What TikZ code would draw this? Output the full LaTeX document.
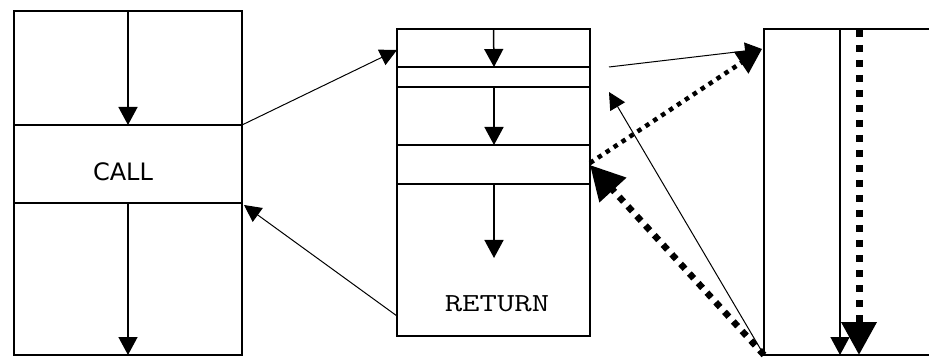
\documentclass[tikz,border=0pt]{standalone}
\usepackage{fontspec}
\newfontfamily\callfont{DejaVu Sans}
\usetikzlibrary{arrows.meta}
\begin{document}
\begin{tikzpicture}[x=1pt,y=-1pt,
  box/.style={draw,line width=1.5pt,inner sep=0pt,outer sep=0pt},
  divider/.style={line width=1.5pt},
  flow/.style={line width=1.5pt,-{Triangle[width=19pt,length=18pt]}},
  link/.style={line width=1pt,-{Triangle[width=17pt,length=17pt]}},
  dotlink/.style={line width=4.5pt,dash pattern=on 4.5pt off 5pt,-{Triangle[width=25pt,length=25pt]}},
  bigdot/.style={line width=6.5pt,dash pattern=on 6.5pt off 6.5pt,-{Triangle[width=35pt,length=34pt]}},
  vdot/.style={line width=7pt,dash pattern=on 7pt off 8pt,-{Triangle[width=34pt,length=33pt]}}]
\clip (0,0) rectangle (929,358);
\fill[white] (0,0) rectangle (929,358);
% left box
\node[box,minimum width=228pt,minimum height=344pt] (L) at (128,183) {};
\coordinate (La) at (128,125);
\coordinate (Law) at (14,125);
\coordinate (Lae) at (242,125);
\coordinate (Lb) at (128,203);
\coordinate (Lbw) at (14,203);
\coordinate (Lbe) at (242,203);
\draw[divider] (Law) -- (Lae);
\draw[divider] (Lbw) -- (Lbe);
\draw[flow] (L.north) -- (La);
\draw[flow] (Lb) -- (L.south);
\node[font=\callfont\fontsize{24}{24}\selectfont] (call) at (123,172) {CALL};
% middle box
\node[box,minimum width=193pt,minimum height=307pt] (M) at (493.5,182.5) {};
\foreach \y/\n in {67/a,87/b,145/c,184/d}{
  \coordinate (Mw\n) at (397,\y);
  \coordinate (Me\n) at (590,\y);
  \coordinate (Mc\n) at (494,\y);
  \draw[divider] (Mw\n) -- (Me\n);
}
\coordinate (Mend) at (494,258);
\draw[flow] (M.north) -- (Mca);
\draw[flow] (Mcb) -- (Mcc);
\draw[flow] (Mcd) -- (Mend);
\node[font=\ttfamily\fontsize{26}{26}\selectfont] (ret) at (497,304) {\scalebox{1.3}[1]{RETURN}};
% right box
\node[box,minimum width=200pt,minimum height=326pt] (R) at (864,192) {};
\coordinate (Rt) at (840,29);
\coordinate (Rb) at (840,355);
\coordinate (Rdt) at (859,30);
\coordinate (Rdb) at (859,355);
\draw[flow] (Rt) -- (Rb);
\draw[vdot] (Rdt) -- (Rdb);
% connectors
\coordinate (Min) at (397,50);
\coordinate (Mout) at (397,316);
\coordinate (Lin) at (244,205);
\coordinate (Rin) at (762,49);
\coordinate (Rcorner) at (764,355);
\coordinate (Pa) at (609,67);
\coordinate (Pb) at (609,92);
\coordinate (Mdot) at (590,163);
\coordinate (Mbig) at (590,165);
\draw[link] (Lae) -- (Min);
\draw[link] (Mout) -- (Lin);
\draw[link] (Pa) -- (Rin);
\draw[dotlink] (Mdot) -- (Rin);
\draw[link] (Rcorner) -- (Pb);
\draw[bigdot] (Rcorner) -- (Mbig);
\end{tikzpicture}
\end{document}
